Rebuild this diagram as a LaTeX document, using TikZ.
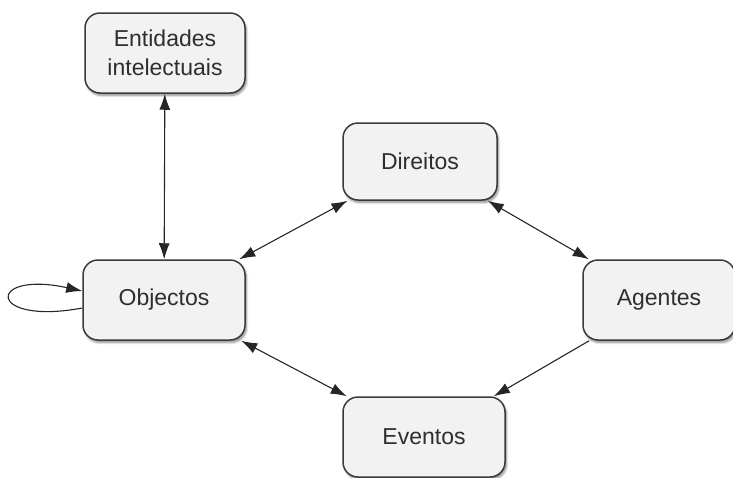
\documentclass[tikz,border=0pt]{standalone}
\usepackage{fontspec}
\setmainfont{Liberation Sans}
\usetikzlibrary{arrows.meta,shadows.blur,calc}
\definecolor{boxfill}{HTML}{F2F2F2}
\definecolor{boxline}{HTML}{3A3A3A}
\definecolor{txt}{HTML}{2E2E2E}
\tikzset{
  entity/.style={rectangle, rounded corners=15pt, draw=boxline, line width=1.5pt,
    fill=boxfill, minimum height=80pt, text=txt, align=center,
    font=\fontsize{23}{29}\selectfont,
    blur shadow={shadow xshift=1.5pt, shadow yshift=-2.5pt, shadow blur steps=6, shadow opacity=45}},
  tip/.tip={Latex[length=16pt,width=11pt]},
  link/.style={line width=1.1pt, black!85, tip-tip},
  onelink/.style={line width=1.1pt, black!85, -tip}
}
\begin{document}
\begin{tikzpicture}[x=1pt,y=-1pt]
\useasboundingbox (0,0) rectangle (733,477);
\node[entity, minimum width=160pt] (ent) at (165,53) {Entidades\\intelectuais};
\node[entity, minimum width=154pt, minimum height=77pt] (dir) at (420,161.5) {Direitos};
\node[entity, minimum width=162pt] (obj) at (164,300) {Objectos};
\node[entity, minimum width=152pt] (age) at (659,300) {Agentes};
\node[entity, minimum width=162pt] (eve) at (424,437) {Eventos};
\draw[link] (ent) -- (obj);
\draw[link] (obj) -- (dir);
\draw[link] (dir) -- (age);
\draw[onelink] (age) -- (eve);
\draw[link] (obj) -- (eve);
\draw[onelink] ($(obj.west)+(0,8)$) .. controls (-14,326) and (-14,270) .. ($(obj.west)+(0,-9)$);
\end{tikzpicture}
\end{document}
